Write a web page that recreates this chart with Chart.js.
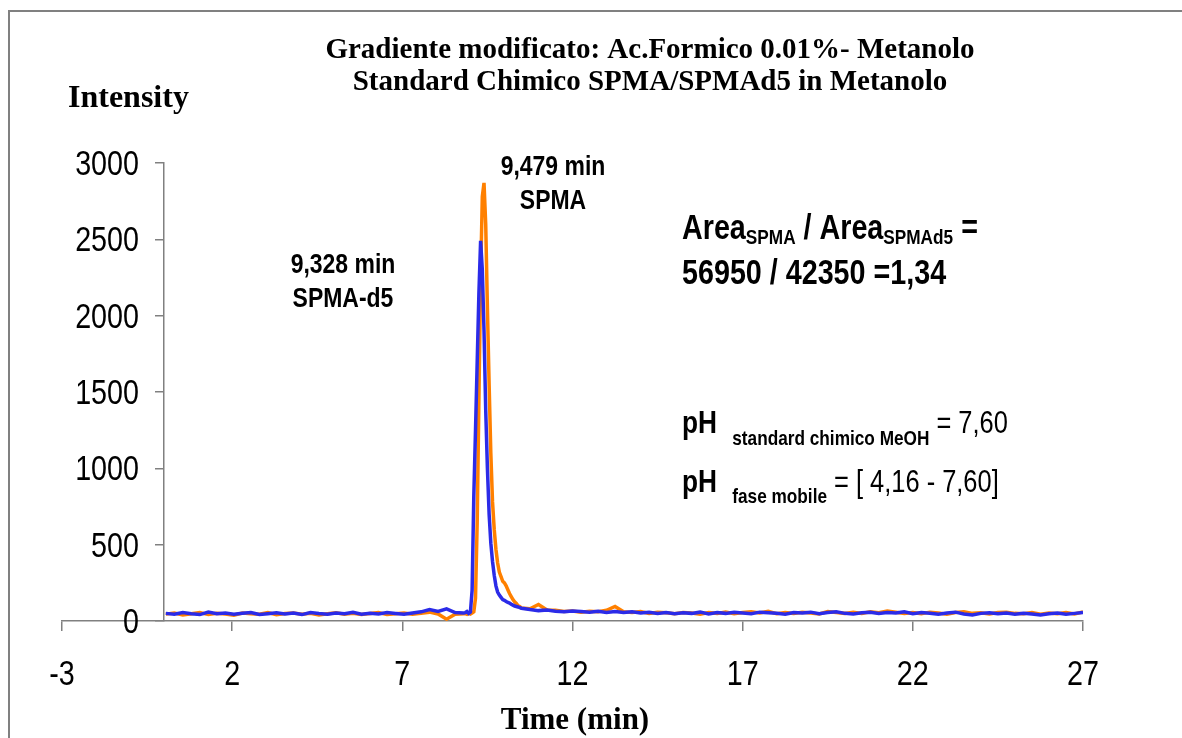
<!DOCTYPE html>
<html>
<head>
<meta charset="utf-8">
<script src="https://cdn.jsdelivr.net/npm/chart.js@4.4.1/dist/chart.umd.min.js"></script>
<style>
  body { margin: 0; background: #fff; }
  #wrap { width: 1182px; height: 738px; }
</style>
</head>
<body>
<div id="wrap"><canvas id="chromChart" width="1182" height="738"></canvas></div>
<script>
// retention time (min)
const timeMin = [
    0.05, 0.3, 0.55, 0.8, 1.05, 1.3, 1.55, 1.8, 2.05, 2.3, 2.55, 2.8, 3.05, 3.3, 3.55, 3.8, 4.05, 4.3,
    4.55, 4.8, 5.05, 5.3, 5.55, 5.8, 6.05, 6.3, 6.55, 6.8, 7.05, 7.3, 7.55, 7.8, 8.05, 8.3, 8.55, 8.8,
    8.85, 8.9, 8.95, 9.0, 9.05, 9.1, 9.15, 9.2, 9.25, 9.3, 9.35, 9.4, 9.45, 9.5, 9.55, 9.6, 9.65,
    9.7, 9.75, 9.8, 9.85, 9.9, 9.95, 10.0, 10.05, 10.1, 10.15, 10.2, 10.25, 10.3, 10.35, 10.4, 10.45, 10.5,
    10.75, 11, 11.25, 11.5, 11.75, 12, 12.25, 12.5, 12.75, 13, 13.25, 13.5, 13.75, 14, 14.25, 14.5, 14.75,
    15, 15.25, 15.5, 15.75, 16, 16.25, 16.5, 16.75, 17, 17.25, 17.5, 17.75, 18, 18.25, 18.5, 18.75,
    19, 19.25, 19.5, 19.75, 20, 20.25, 20.5, 20.75, 21, 21.25, 21.5, 21.75, 22, 22.25, 22.5, 22.75,
    23, 23.25, 23.5, 23.75, 24, 24.25, 24.5, 24.75, 25, 25.25, 25.5, 25.75, 26, 26.25, 26.5, 26.75, 27
];

// SPMA (orange trace)
const spmaIntensity = [
    45, 52, 40, 48, 55, 42, 50, 46, 38, 52, 47, 44, 55, 41, 49, 53, 44, 50,
    39, 48, 54, 45, 51, 43, 49, 56, 42, 47, 52, 45, 50, 58, 46, 12, 44, 48,
    48, 44, 50, 46, 52, 60, 150, 650, 1450, 2250, 2780, 2870, 2600, 2050, 1550, 1100, 780,
    600, 470, 380, 320, 290, 260, 250, 230, 205, 180, 160, 140, 125, 115, 100, 95, 85,
    80, 108, 72, 70, 62, 66, 58, 64, 60, 70, 95, 60, 55, 62, 50, 58, 54,
    48, 56, 52, 45, 55, 50, 58, 47, 55, 60, 52, 64, 48, 56, 50, 58,
    52, 46, 62, 55, 50, 57, 49, 60, 54, 66, 58, 50, 56, 48, 58, 52,
    44, 56, 60, 50, 54, 46, 55, 58, 50, 47, 56, 44, 52, 48, 55, 46, 60
];

// SPMA-d5 (blue trace)
const spmaD5Intensity = [
    50, 44, 55, 47, 42, 58, 48, 52, 45, 50, 56, 43, 48, 54, 46, 52, 42, 55,
    49, 45, 53, 47, 57, 44, 50, 46, 55, 49, 44, 52, 60, 75, 62, 80, 55, 52,
    55, 62, 50, 58, 200, 820, 1250, 1700, 2150, 2490, 2300, 1900, 1380, 1000, 700, 510, 390,
    300, 230, 190, 170, 155, 140, 135, 128, 122, 118, 110, 104, 98, 95, 92, 88, 84,
    75, 68, 72, 64, 60, 66, 62, 58, 64, 56, 62, 55, 60, 52, 58, 50, 56,
    48, 54, 50, 58, 46, 55, 50, 57, 52, 48, 58, 54, 50, 45, 56, 52,
    58, 48, 55, 60, 50, 46, 54, 58, 50, 56, 52, 60, 48, 55, 50, 44,
    52, 58, 46, 40, 50, 54, 48, 52, 44, 50, 46, 40, 48, 52, 44, 50, 56
];

const xTickValues = [-3, 2, 7, 12, 17, 22, 27];
const yTickValues = [0, 500, 1000, 1500, 2000, 2500, 3000];

// no narrow sans installed, so squeeze Liberation Sans horizontally
const SANS = '"Liberation Sans", Arial, sans-serif';
const SERIF = '"Liberation Serif", "Times New Roman", serif';
const SQUEEZE = 0.82;

function toPoints(values) {
    return timeMin.map((t, i) => ({ x: t, y: values[i] }));
}

function narrowText(ctx, text, x, y, font, align) {
    ctx.save();
    ctx.font = font;
    ctx.textAlign = align || 'left';
    ctx.textBaseline = 'alphabetic';
    ctx.translate(x, y);
    ctx.scale(SQUEEZE, 1);
    ctx.fillText(text, 0, 0);
    const w = ctx.measureText(text).width * SQUEEZE;
    ctx.restore();
    return w;
}

// a line made of pieces with different fonts / baseline shifts
function richText(ctx, x, y, parts) {
    parts.forEach(p => {
        x += (p.dx || 0);
        x += narrowText(ctx, p.text, x, y + (p.dy || 0), p.font);
    });
}

const decorations = {
    id: 'decorations',
    beforeDraw(chart) {
        const ctx = chart.ctx;
        ctx.save();
        ctx.fillStyle = '#fff';
        ctx.fillRect(0, 0, chart.width, chart.height);
        ctx.restore();
    },
    afterDraw(chart) {
        const ctx = chart.ctx;
        const xs = chart.scales.x;
        const ys = chart.scales.y;
        ctx.save();
        // frame (left + top)
        ctx.strokeStyle = '#808080';
        ctx.lineWidth = 2;
        ctx.beginPath();
        ctx.moveTo(9, chart.height);
        ctx.lineTo(9, 11);
        ctx.lineTo(chart.width, 11);
        ctx.stroke();

        ctx.fillStyle = '#000';

        // tick labels
        const tickFont = '35px ' + SANS;
        xTickValues.forEach(v => {
            narrowText(ctx, String(v), xs.getPixelForValue(v), 685, tickFont, 'center');
        });
        yTickValues.forEach(v => {
            narrowText(ctx, String(v), 139, ys.getPixelForValue(v) + 12, tickFont, 'right');
        });

        ctx.textAlign = 'center';
        ctx.textBaseline = 'middle';
        ctx.font = 'bold 29px ' + SERIF;
        ctx.fillText('Gradiente modificato: Ac.Formico 0.01%- Metanolo', 650, 51);
        ctx.fillText('Standard Chimico SPMA/SPMAd5 in Metanolo', 650, 83);
        ctx.font = 'bold 31px ' + SERIF;
        ctx.fillText('Time (min)', 575, 721);

        ctx.textAlign = 'left';
        ctx.font = 'bold 32px ' + SERIF;
        ctx.fillText('Intensity', 68, 99);

        const peakFont = 'bold 28px ' + SANS;
        narrowText(ctx, '9,479 min', 553, 175, peakFont, 'center');
        narrowText(ctx, 'SPMA', 553, 209, peakFont, 'center');
        narrowText(ctx, '9,328 min', 343, 273, peakFont, 'center');
        narrowText(ctx, 'SPMA-d5', 343, 307, peakFont, 'center');

        const big = 'bold 35px ' + SANS;
        const sub = 'bold 21px ' + SANS;
        richText(ctx, 682, 239, [
            { text: 'Area', font: big },
            { text: 'SPMA', font: sub, dy: 5 },
            { text: ' / Area', font: big },
            { text: 'SPMAd5', font: sub, dy: 5 },
            { text: ' =', font: big }
        ]);
        richText(ctx, 682, 284, [{ text: '56950 / 42350 =1,34', font: big }]);

        const ph = 'bold 32px ' + SANS;
        const phSub = 'bold 21px ' + SANS;
        const reg = '31px ' + SANS;
        richText(ctx, 682, 433, [
            { text: 'pH ', font: ph },
            { text: 'standard chimico MeOH', font: phSub, dy: 12, dx: 8 },
            { text: ' = 7,60', font: reg }
        ]);
        richText(ctx, 682, 492, [
            { text: 'pH ', font: ph },
            { text: 'fase mobile', font: phSub, dy: 11, dx: 8 },
            { text: ' = [ 4,16 - 7,60]', font: reg }
        ]);
        ctx.restore();
    }
};

new Chart(document.getElementById('chromChart'), {
    type: 'line',
    data: {
        datasets: [
            {
                label: 'SPMA-d5',
                data: toPoints(spmaD5Intensity),
                borderColor: '#2b2be8',
                borderWidth: 3.5,
                pointRadius: 0,
                tension: 0
            },
            {
                label: 'SPMA',
                data: toPoints(spmaIntensity),
                borderColor: '#ff8000',
                borderWidth: 3.5,
                pointRadius: 0,
                tension: 0
            }
        ]
    },
    options: {
        responsive: false,
        animation: false,
        layout: { padding: { left: 62, right: 99, top: 163, bottom: 107 } },
        plugins: {
            legend: { display: false },
            tooltip: { enabled: false }
        },
        scales: {
            x: {
                type: 'linear',
                min: -3,
                max: 27,
                afterBuildTicks: scale => { scale.ticks = xTickValues.map(v => ({ value: v })); },
                grid: { drawOnChartArea: false, tickLength: 10, color: '#808080', lineWidth: 1.5 },
                border: { color: '#808080', width: 1.5 },
                ticks: { display: false }
            },
            y: {
                type: 'linear',
                position: { x: 0 },
                min: 0,
                max: 3000,
                afterBuildTicks: scale => { scale.ticks = yTickValues.map(v => ({ value: v })); },
                grid: { drawOnChartArea: false, tickLength: 8, color: '#808080', lineWidth: 1.5 },
                border: { color: '#808080', width: 1.5 },
                ticks: { display: false }
            }
        }
    },
    plugins: [decorations]
});
</script>
</body>
</html>
